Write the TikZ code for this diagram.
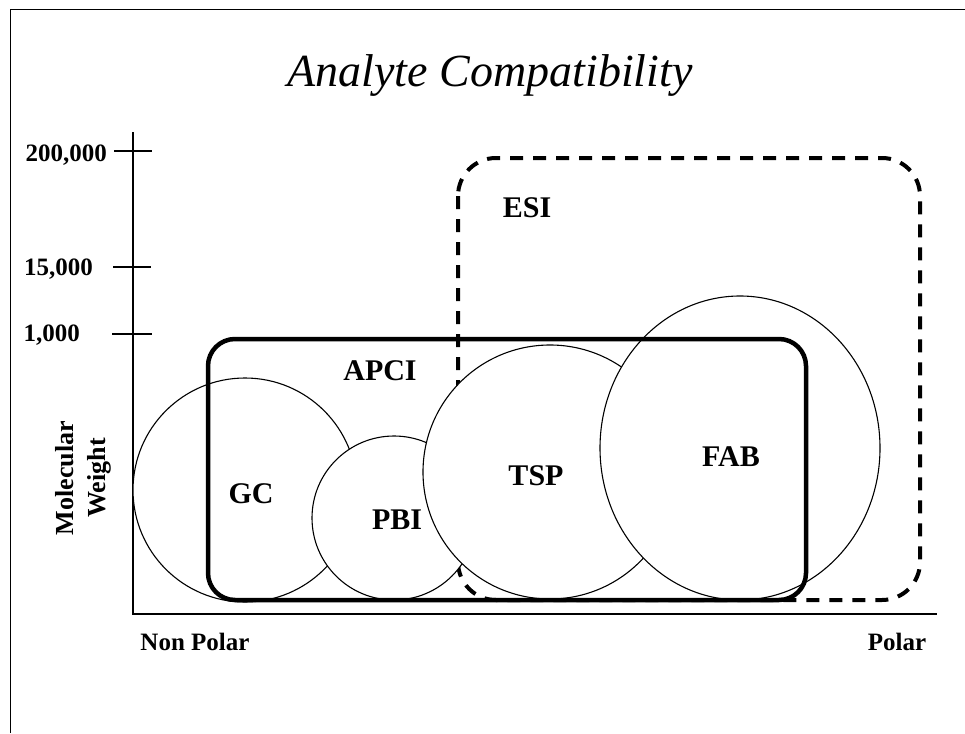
\documentclass[tikz,border=0pt]{standalone}
\usepackage{fontspec}
\setmainfont{Liberation Serif}
\begin{document}
\begin{tikzpicture}[x=1pt,y=-1pt,
  lbl/.style={font=\fontsize{30}{32}\selectfont\bfseries, inner sep=0pt, anchor=base},
  ticklbl/.style={font=\fontsize{25}{27}\selectfont\bfseries, inner sep=0pt, anchor=base east},
  axlbl/.style={font=\fontsize{25}{27}\selectfont\bfseries, inner sep=0pt, anchor=base},
  circ/.style={draw=black, line width=1.1pt, fill=white},
  axisline/.style={line width=1.3pt},
  esi/.style={line width=4pt, dash pattern=on 13pt off 10pt},
  apci/.style={line width=4.5pt}]
\useasboundingbox (0,0) rectangle (965,733);
\fill[white] (0,0) rectangle (965,733);
% frame
\draw[line width=1pt] (10,733) -- (10,10) -- (965,10);
% title
\node[font=\fontsize{46}{50}\selectfont\itshape, anchor=base, inner sep=0pt] (title) at (490,87) {Analyte Compatibility};
% axes
\coordinate (O) at (133,614);
\coordinate (ytop) at (133,132);
\coordinate (xend) at (937,614);
\draw[axisline] (ytop) -- (O) -- (xend);
% ticks
\coordinate (t1a) at (114,151); \coordinate (t1b) at (152,151);
\coordinate (t2a) at (113,267); \coordinate (t2b) at (151,267);
\coordinate (t3a) at (112,334); \coordinate (t3b) at (152,334);
\draw[axisline] (t1a) -- (t1b);
\draw[axisline] (t2a) -- (t2b);
\draw[axisline] (t3a) -- (t3b);
\node[ticklbl] (l200) at (107,161) {200,000};
\node[ticklbl] (l15) at (93,275) {15,000};
\node[ticklbl] (l1) at (80,341) {1,000};
\node[axlbl] (nonpolar) at (195,650) {Non Polar};
\node[axlbl] (polar) at (897,650) {Polar};
\node[font=\fontsize{26}{32}\selectfont\bfseries, rotate=90, align=center, inner sep=0pt] (mw) at (83,478) {Molecular\\Weight};
% ESI region
\draw[esi, rounded corners=38pt] (458,158) rectangle (920,600);
% circles
\draw[circ] (245,490) circle[radius=112pt];
\draw[circ] (394,518) circle[radius=82pt];
\draw[circ] (550,472) circle[radius=127pt];
\draw[circ] (740,448) ellipse[x radius=140pt, y radius=152pt];
% APCI region
\draw[apci, rounded corners=27pt] (208,339) rectangle (806,600);
% labels
\node[lbl] (esil) at (527,217) {ESI};
\node[lbl] (apcil) at (380,380) {APCI};
\node[lbl] (gcl) at (251,503) {GC};
\node[lbl] (pbil) at (397,529) {PBI};
\node[lbl] (tspl) at (536,485) {TSP};
\node[lbl] (fabl) at (731,466) {FAB};
\end{tikzpicture}
\end{document}
